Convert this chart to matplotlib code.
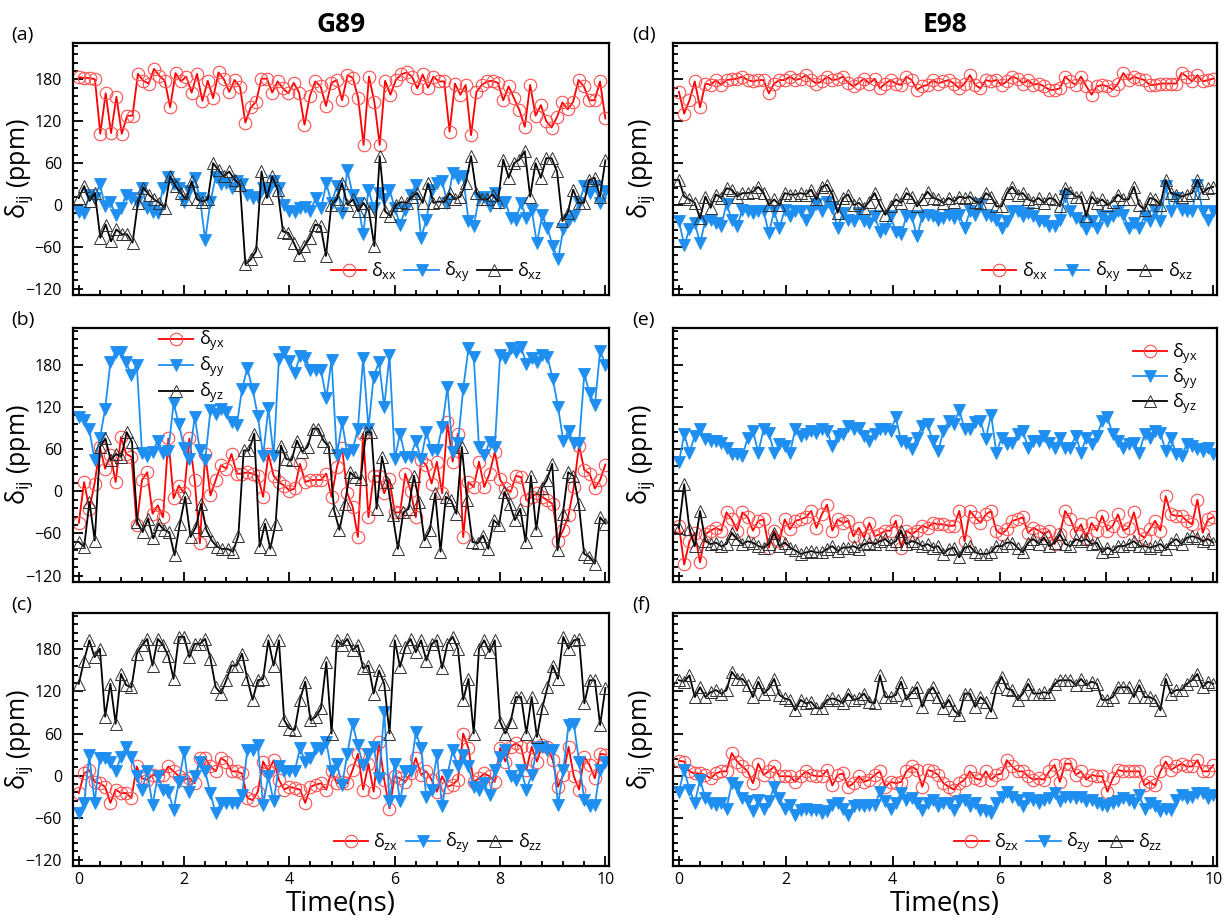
import numpy as np
import matplotlib.pyplot as plt
from matplotlib.ticker import MultipleLocator

plt.rcParams['font.family'] = ['Open Sans', 'DejaVu Sans']
plt.rcParams['mathtext.fontset'] = 'custom'
plt.rcParams['mathtext.rm'] = 'Open Sans'
plt.rcParams['mathtext.it'] = 'Open Sans:italic'

# ---- G89 (left column), 0..10 ns ----
g89_xx = [183,182,182,180,102,160,103,155,102,128, 128,188,178,174,195,185,178,140,189,177,
          184,161,188,149,178,153,190,180,162,179, 169,118,140,148,181,181,161,177,167,160,
          175,161,115,156,177,
          170,142,175,179,150,186,182,153,86,184, 148,86,178,158,179,187,190,184,167,187,
          168,184,177,177,105,174,158,172,100,162, 172,177,178,175,150,170,153,136,112,172,
          128,143,120,111,126,147,137,148,179,170, 150,150,177,124]
g89_xy = [-10,-12,15,10,30,-2,5,-15,-5,15, 10,5,25,-5,-10,-12,25,40,30,25,
          5,20,38,10,-50,5,40,30,32,25, 35,30,15,10,12,25,20,35,25,0,
          -8,-10,-5,-3,-8,10,-5,
          31,3,27,-11,50,15,3,-42,22,-4, 17,9,22,-4,-28,-7,15,29,-47,-21,
          22,31,34,3,46,39,41,-23,-30,10, 12,-2,17,3,5,-19,-21,3,-19,-7,
          -55,-14,-33,-59,-78,-35,-21,-16,3,27, 17,27,3,20]
g89_xz = [10,27,6,17,-47,-28,-52,-35,-42,-42, -54,3,25,15,8,3,-4,41,27,17,
          8,34,8,5,8,60,50,41,48,36, 29,-85,-78,-66,48,10,41,22,-38,-40,
          -54,-71,-59,-47,-28,
          -30,-73,0,8,31,0,8,-9,3,-9, -59,70,-9,-16,0,4,3,12,17,3,
          31,3,5,4,17,8,12,31,70,17, 8,8,15,5,65,39,60,65,77,12,
          60,39,67,67,48,-23,-11,22,3,3, 36,39,12,64]

g89_yx = [-45,13,-25,11,63,32,52,13,77,53, 49,-48,16,27,-32,-20,-37,75,-10,8,
          -3,75,16,-74,53,-6,16,37,32,53, 25,25,27,25,22,-8,53,22,13,8,
          1,4,39,13,16,16,
          16,25,-8,34,61,-3,-22,-65,82,-37, 22,22,-3,17,-30,-30,25,1,-37,44,
          37,11,42,-3,98,42,82,-65,13,6, 42,6,25,56,17,4,-1,22,20,-13,
          -8,-3,-8,-13,-18,-70,-55,-34,6,65, 30,25,4,16,38]
g89_yy = [106,101,88,44,75,117,183,198,198,183, 165,180,55,50,56,72,55,57,125,96,
          61,46,106,58,44,115,110,117,112,98, 94,145,175,145,107,50,118,50,188,198,
          185,168,192,190,173,173,
          172,132,187,51,98,53,58,89,189,89, 163,184,120,193,46,82,49,49,72,46,
          84,58,58,91,148,56,68,146,203,191, 63,51,70,63,193,189,203,198,205,181,
          189,184,193,191,160,120,72,86,68,68, 167,139,122,200,180]
g89_yz = [-72,-79,-15,-70,63,75,44,53,49,84, 70,-44,-58,-39,-67,-46,-55,-58,-91,-46,
          -8,-65,-51,-18,-55,-70,-79,-82,-82,-86, -63,58,58,82,-79,-46,-82,-46,65,46,
          44,72,56,63,89,
          89,72,63,-27,-55,-18,27,20,17,84, 84,-25,49,13,-34,-82,-30,-25,22,-15,
          -70,-55,-3,-86,-8,-13,-32,63,-13,-72, -74,-63,-82,-41,-48,-1,-18,-41,-25,-72,
          22,-55,4,16,39,-84,-32,27,22,-18, -89,-93,-103,-37,-46]

g89_zx = [-25,3,8,-9,-11,-16,-39,-20,-25,-25, -32,13,-4,-6,1,-1,1,13,6,-1,
          -6,-4,-11,25,25,13,6,25,20,6, 6,3,-32,-35,-23,20,6,22,-6,-20,
          -16,-18,-20,-39,-16,-13,-11,
          -20,6,-11,-9,-11,8,31,-20,17,-23, 48,-6,-47,-1,-4,-9,3,25,1,6,
          -6,-23,-1,-16,-13,-6,60,39,-9,-4, 3,-1,-9,39,20,41,46,41,8,41,
          20,43,41,22,-16,1,41,-1,-20,27, 15,-4,31,30]
g89_zy = [-54,-39,29,-39,25,25,20,6,27,41, 27,-1,-20,6,-42,-1,-20,-23,-49,-9,
          34,-23,-1,20,6,-25,-54,-39,-39,-39, -39,-28,36,36,43,-42,-1,-37,13,6,
          6,6,39,20,25,39,38,
          48,6,17,-13,31,74,43,15,31,41, -4,91,-37,17,-37,6,6,62,39,-30,
          -20,29,-44,1,36,13,29,13,-16,-20, -11,-28,8,27,36,-1,-6,8,-20,1,
          39,41,36,36,-42,8,72,74,20,-35, -44,-42,8,20]
g89_zz = [131,164,193,169,181,84,131,74,145,129, 126,174,186,195,157,195,186,171,138,198,
          198,169,188,188,195,167,126,117,136,157, 157,174,138,108,136,138,193,157,193,79,
          67,65,108,134,79,84,96,
          162,60,193,186,195,179,186,153,157, 117,150,131,60,193,155,183,195,176,193,
          164,188,193,153,188,198,181,108,138,60, 181,193,176,193,77,60,77,112,112,60,
          112,55,96,126,157,138,198,181,193,195, 103,136,136,72,125]

# ---- E98 (right column) ----
e98_xx = [162,131,150,177,140,174,172,179,172,179, 180,181,184,179,177,179,179,160,174,179,
          179,184,179,181,186,179,174,177,184,179, 180,184,175,170,175,181,174,181,167,174,
          179,174,172,184,179,165,170,
          172,179,174,177,179,174,167,174,186,172, 167,179,177,179,172,177,184,181,174,179,
          172,174,170,165,165,167,184,177,172,184, 170,158,170,172,170,165,174,189,179,184,
          181,179,172,172,174,174,174,174,189,184, 177,186,177,179,181]
e98_xy = [-23,-57,-35,-26,-54,-23,-21,-26,-30,2, -21,-30,-7,-9,-11,-9,-9,-40,-9,-33,
          -7,-16,-9,-9,-21,-9,2,-9,5,-4, -33,-11,-21,-23,-11,-23,-26,-16,-38,-35,
          -16,-38,-42,-16,-16,-45,-16,
          -14,-16,-21,-19,-14,-19,-14,-33,-9,-14, 2,-14,-16,-21,-33,-23,-9,-9,-16,-11,
          -16,-23,-23,-30,-30,-21,13,-9,-19,-23, -35,-23,-33,-16,-23,-16,-9,-14,-33,-26,
          -33,-16,-23,-9,-23,27,-9,10,-7,-9, -9,29,-9,-21,-9]
e98_xz = [36,12,8,3,-19,12,-4,15,10,24, 22,12,17,17,19,26,17,0,8,0,
          17,15,15,17,15,22,8,26,29,15, -11,10,15,0,3,-4,5,17,0,-14,
          -2,8,3,17,12,-2,8,
          19,10,8,3,10,5,12,10,12,5, 3,17,12,-2,-2,17,26,15,17,8,
          5,10,3,10,8,-2,24,19,12,12, -16,12,3,8,0,5,15,8,8,26,
          0,-7,10,8,0,36,17,15,12,15, 17,36,17,24,26]

e98_yx = [-49,-104,-71,-59,-101,-61,-56,-52,-56,-30, -40,-56,-30,-37,-56,-42,-40,-80,-56,-71,
          -40,-54,-42,-40,-37,-28,-52,-33,-19,-56, -40,-45,-42,-64,-52,-66,-45,-64,-61,-56,
          -56,-42,-80,-56,-61,-56,-49,
          -52,-45,-47,-47,-49,-49,-28,-71,-28,-37, -45,-33,-28,-56,-61,-54,-42,-40,-37,-59,
          -52,-56,-61,-56,-75,-61,-28,-40,-59,-47, -66,-45,-56,-35,-56,-49,-33,-56,-52,-30,
          -61,-66,-54,-42,-56,-7,-33,-35,-35,-42, -47,-12,-59,-40,-37]
e98_yy = [41,81,55,79,88,74,71,71,69,62, 53,53,50,76,86,55,88,83,55,67,
          64,55,88,79,81,86,83,88,86,64, 79,81,93,88,90,79,71,81,88,88,
          86,105,71,69,60,76,93,
          95,71,57,86,100,95,116,88,88,98, 100,74,109,55,76,67,69,81,86,62,
          71,71,79,69,62,76,62,62,79,55, 76,67,79,100,105,81,71,62,67,69,
          55,81,76,86,83,57,76,53,50,67, 64,60,57,62,53]
e98_yz = [-52,10,-54,-78,-28,-71,-75,-73,-78,-75, -59,-68,-75,-71,-73,-78,-80,-75,-59,-78,
          -73,-80,-84,-89,-87,-85,-87,-87,-82,-78, -85,-80,-80,-78,-82,-75,-73,-75,-71,-68,
          -75,-71,-56,-75,-71,-73,-78,
          -75,-80,-78,-89,-82,-80,-94,-80,-78,-87, -89,-89,-87,-78,-78,-73,-73,-80,-87,-73,
          -68,-75,-66,-78,-73,-61,-75,-78,-68,-71, -68,-75,-73,-87,-80,-85,-78,-78,-75,-71,
          -78,-78,-80,-78,-75,-82,-73,-68,-75,-66, -64,-66,-71,-68,-73]

e98_zx = [21,20,6,3,3,1,-4,3,6,6, 32,20,13,6,-11,17,1,6,13,-1,
          -1,-1,-9,-1,6,1,-1,-1,8,-14, 1,3,-16,-11,-1,-9,-6,1,6,-16,
          -9,-11,-9,6,13,8,-16,
          8,6,1,-11,-16,-20,-11,-6,6,-4, -6,6,-6,1,3,22,13,6,6,-1,
          -6,-4,-6,6,15,-9,17,17,1,6, -6,1,-1,-1,-23,-4,8,6,6,6,
          6,-14,-9,-14,6,20,8,13,17,13, 13,22,6,6,15]
e98_zy = [-23,8,-20,-39,-6,-32,-39,-42,-39,-47, -11,-16,-32,-37,-51,-35,-47,-37,-16,-32,
          -47,-42,-56,-49,-47,-49,-49,-54,-51,-42, -39,-47,-56,-44,-42,-44,-42,-42,-23,-37,
          -47,-39,-25,-35,-32,-39,-49,
          -39,-35,-44,-39,-39,-49,-37,-35,-44,-39, -49,-51,-54,-39,-30,-23,-30,-35,-44,-32,
          -35,-39,-35,-32,-25,-37,-30,-30,-32,-30, -37,-35,-39,-42,-44,-39,-37,-32,-35,-39,
          -28,-47,-39,-44,-51,-47,-49,-35,-28,-32, -30,-25,-25,-32,-28]
e98_zz = [136,134,143,112,126,112,119,122,117,122, 148,138,138,129,112,134,117,124,138,115,
          110,108,93,108,103,105,96,96,108,110, 108,103,117,108,110,117,105,103,143,112,
          112,115,134,108,119,126,98,
          117,126,112,96,108,93,86,117,117,98, 112,105,91,126,141,124,122,108,117,131,
          117,117,119,117,131,136,136,136,129,138, 129,134,131,108,108,112,126,126,126,112,
          129,112,112,108,93,138,117,122,122,131, 136,145,126,134,131]

row_labels = [['xx', 'xy', 'xz'], ['yx', 'yy', 'yz'], ['zx', 'zy', 'zz']]
left_data = [[g89_xx, g89_xy, g89_xz], [g89_yx, g89_yy, g89_yz], [g89_zx, g89_zy, g89_zz]]
right_data = [[e98_xx, e98_xy, e98_xz], [e98_yx, e98_yy, e98_yz], [e98_zx, e98_zy, e98_zz]]
panel_tags = [['(a)', '(d)'], ['(b)', '(e)'], ['(c)', '(f)']]

styles = [
    dict(color='#ff0000', lw=1.3, marker='o', ms=9, mfc='none', mec='#ff5050', mew=0.8),
    dict(color='#1e8ff0', lw=1.3, marker='v', ms=9, mfc='#1e8ff0', mec='#1e8ff0', mew=0.6),
    dict(color='black', lw=1.3, marker='^', ms=9, mfc='none', mec='#303030', mew=0.7),
]

fig = plt.figure(figsize=(12.25, 9.24), dpi=100)
col_x = [(0.0596, 0.4376), (0.5494, 0.4441)]
row_y = [(0.6807, 0.2727), (0.3701, 0.2749), (0.0628, 0.2738)]

# legend placement per panel: (left, right) column
leg_opts = [
    [dict(loc='lower right', bbox_to_anchor=(0.895, 0.0), ncol=3),
     dict(loc='lower right', bbox_to_anchor=(0.975, 0.0), ncol=3)],
    [dict(loc='upper left', bbox_to_anchor=(0.14, 1.04), ncol=1, labelspacing=0.1),
     dict(loc='upper right', bbox_to_anchor=(0.985, 0.99), ncol=1, labelspacing=0.05)],
    [dict(loc='lower right', bbox_to_anchor=(0.895, 0.0), ncol=3),
     dict(loc='lower right', bbox_to_anchor=(0.92, 0.0), ncol=3)],
]

for r in range(3):
    for c in range(2):
        ax = fig.add_axes([col_x[c][0], row_y[r][0], col_x[c][1], row_y[r][1]])
        data = left_data[r] if c == 0 else right_data[r]
        for vals, lab, st in zip(data, row_labels[r], styles):
            t = np.linspace(0, 10, len(vals))
            ax.plot(t, vals, label='δ$_{\\mathregular{%s}}$' % lab, **st)

        ax.set_xlim(-0.11, 10.07)
        ax.set_ylim(-129, 232)
        ax.xaxis.set_major_locator(MultipleLocator(2))
        ax.xaxis.set_minor_locator(MultipleLocator(0.4))
        ax.yaxis.set_major_locator(MultipleLocator(60))
        ax.yaxis.set_minor_locator(MultipleLocator(12))
        ax.tick_params(which='both', direction='in', top=False, right=False,
                       labelsize=11.5, width=1.3)
        ax.tick_params(which='major', length=7)
        ax.tick_params(which='minor', length=3.5)
        ax.tick_params(axis='y', which='major', pad=8)
        ax.tick_params(axis='x', which='major', pad=4)
        for sp in ax.spines.values():
            sp.set_linewidth(1.6)
        if c == 1:
            ax.tick_params(labelleft=False)
        if r < 2:
            ax.tick_params(labelbottom=False)
        else:
            ax.set_xlabel('Time(ns)', fontsize=20, labelpad=2)
        ax.set_ylabel('δ$_{\\mathregular{ij}}$ (ppm)', fontsize=18)
        ax.yaxis.set_label_coords(-0.07 if c == 0 else -0.03, 0.5)

        ax.text(-0.115 if c == 0 else -0.075, 1.03, panel_tags[r][c], transform=ax.transAxes,
                fontsize=14, va='center', ha='left')

        leg_kw = dict(frameon=False, fontsize=13, handlelength=1.9, handletextpad=0.3,
                      columnspacing=0.4, labelspacing=0.15, borderaxespad=0.2)
        leg_kw.update(leg_opts[r][c])
        ax.legend(**leg_kw)

        if r == 0:
            ax.set_title('G89' if c == 0 else 'E98', fontsize=19, fontweight='bold', pad=8)

fig.savefig('out.png', dpi=100)
